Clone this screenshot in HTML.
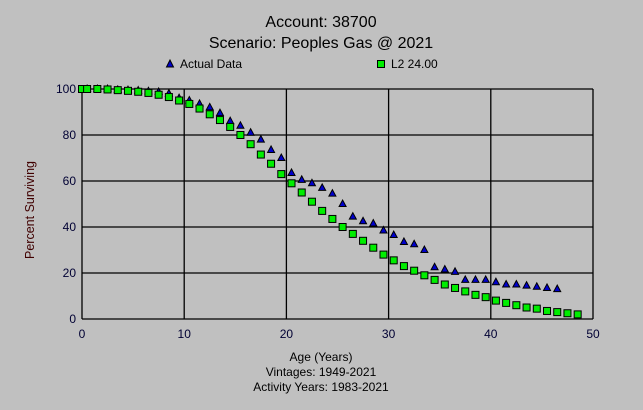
<!DOCTYPE html>
<html><head><meta charset="utf-8"><style>
html,body{margin:0;padding:0;background:#c0c0c0;}
svg{display:block;font-family:"Liberation Sans",Arial,sans-serif;}
</style></head><body>
<svg id="s" width="643" height="410" viewBox="0 0 643 410" xmlns="http://www.w3.org/2000/svg">
<rect width="643" height="410" fill="#c0c0c0"/>
<text x="321" y="27" font-size="16" text-anchor="middle" fill="#000">Account: 38700</text>
<text x="321" y="48" font-size="16" text-anchor="middle" fill="#000">Scenario: Peoples Gas @ 2021</text>
<polygon points="166.5,67 170,60 173.5,67" fill="#0000cc" stroke="#000" stroke-width="1"/>
<text x="180" y="68" font-size="12" fill="#000">Actual Data</text>
<rect x="377.5" y="60.5" width="7" height="7" fill="#00ee00" stroke="#000"/>
<text x="391" y="68" font-size="12" fill="#000">L2 24.00</text>
<g id="grid" stroke="#000" stroke-width="1.3" fill="none"></g>
<g font-size="12" fill="#000033" id="ticks"></g>
<text transform="translate(34,210) rotate(-90)" font-size="12.5" text-anchor="middle" fill="#400000">Percent Surviving</text>
<text x="321" y="361" font-size="12" text-anchor="middle" fill="#000">Age (Years)</text>
<text x="321" y="376" font-size="12" text-anchor="middle" fill="#000">Vintages: 1949-2021</text>
<text x="321" y="391" font-size="12" text-anchor="middle" fill="#000">Activity Years: 1983-2021</text>
<g id="pts"></g>
</svg>
<script>
var NS="http://www.w3.org/2000/svg";
function X(v){return 82+v*10.22;} function Y(v){return 319-v*2.3;}
function el(p,t,a){var e=document.createElementNS(NS,t);for(var k in a)e.setAttribute(k,a[k]);document.getElementById(p).appendChild(e);return e;}
for(var i=0;i<=5;i++){var x=X(i*10);el("grid","line",{x1:x,y1:Y(0),x2:x,y2:Y(100)});
 var t=el("ticks","text",{x:x,y:338,"text-anchor":"middle"});t.textContent=i*10;}
for(var j=0;j<=5;j++){var y=Y(j*20);el("grid","line",{x1:X(0),y1:y,x2:X(50),y2:y});
 var t2=el("ticks","text",{x:76,y:y+4,"text-anchor":"end"});t2.textContent=j*20;}
var act=[100,100,100,99.6,99.5,99.3,99,98.7,98,96,95,93.5,92,89.5,86,84,81,78,73.5,70,63.5,60.5,59,57,54.5,50,44.5,42.5,41.5,38.5,36.5,33.5,32.5,30,22.5,21.5,20.5,17,17,17,16,15,15,14.5,14,13.5,13];
var l2=[100,100,99.8,99.5,99.2,98.8,98.3,97.5,96.5,95,93.5,91.5,89,86.5,83.5,80,76,71.5,67.5,63,59,55,51,47,43.5,40,37,34,31,28,25.5,23,21,19,17,15,13.5,12,10.5,9.5,8,7,6,5,4.5,3.5,3,2.5,2];
for(var k=0;k<act.length;k++){var cx=X(k+0.5),cy=Y(act[k]);
 el("pts","polygon",{points:(cx-3.5)+","+(cy+2.5)+" "+cx+","+(cy-4)+" "+(cx+3.5)+","+(cy+2.5),fill:"#0000cc",stroke:"#000","stroke-width":1});}
el("pts","rect",{x:X(0)-3.5,y:Y(100)-3.5,width:7,height:7,fill:"#00ee00",stroke:"#000"});
for(var m=0;m<l2.length;m++){var sx=X(m+0.5),sy=Y(l2[m]);
 el("pts","rect",{x:sx-3.5,y:sy-3.5,width:7,height:7,fill:"#00ee00",stroke:"#000"});}
</script>
</body></html>
